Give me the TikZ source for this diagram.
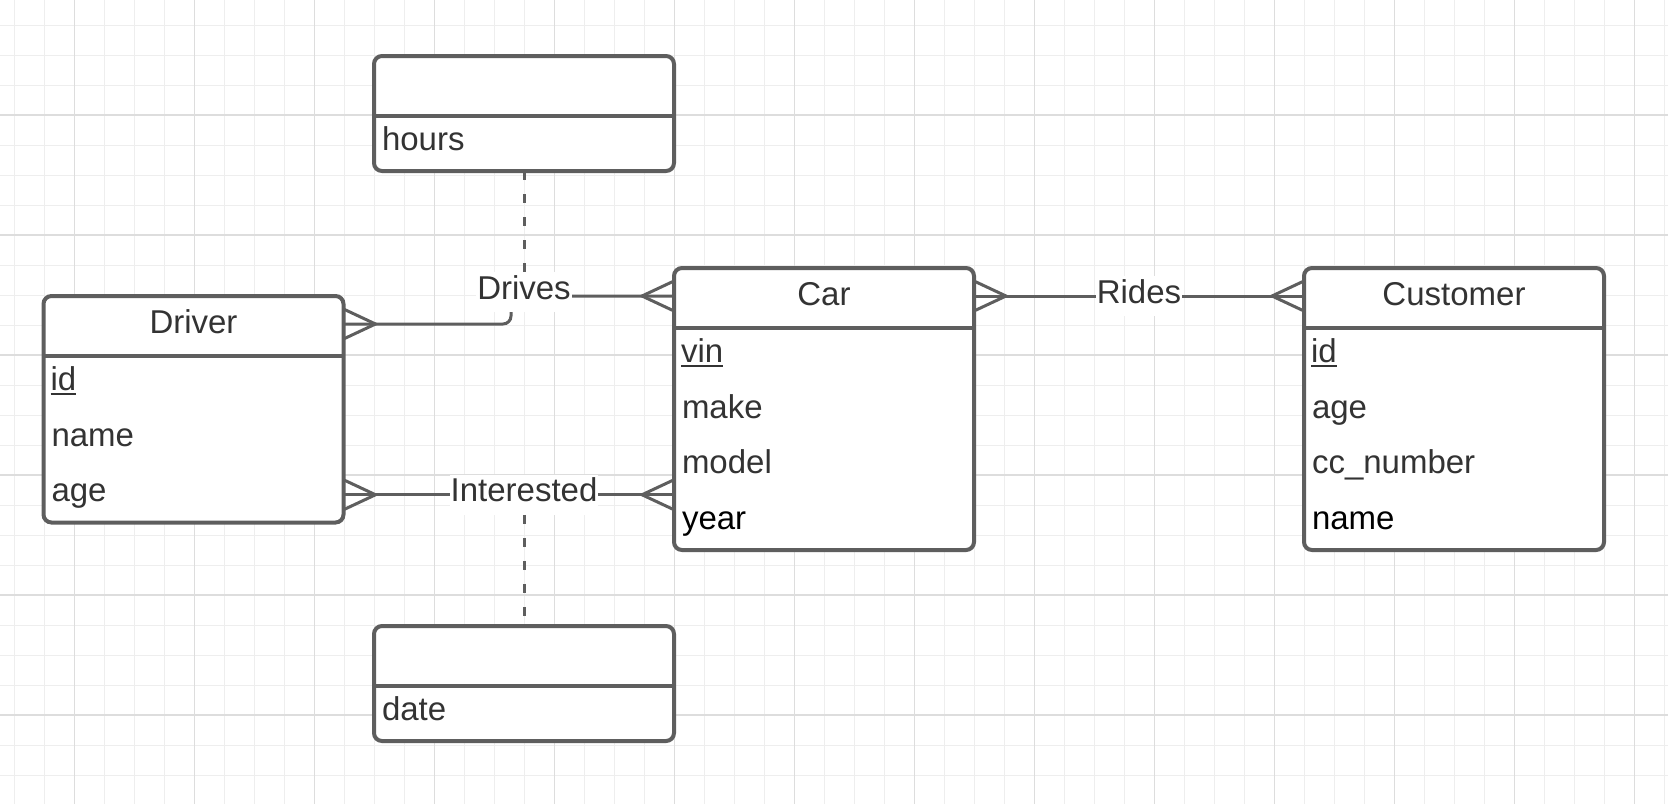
\documentclass[tikz,border=0pt]{standalone}
\usepackage{fontspec}
\setmainfont{Liberation Sans}
\usetikzlibrary{calc}
\definecolor{linec}{HTML}{5E5E5E}
\definecolor{textc}{HTML}{333333}
\definecolor{gridminor}{HTML}{EEEEEE}
\definecolor{gridmajor}{HTML}{DDDDDD}
\newcommand\bigfont{\fontsize{33}{40}\selectfont}
\newcommand\crowfoot[2]{\draw[rel] ($(#1)+(0,15)$) -- ($(#1)+(#2*32,0)$) -- ($(#1)+(0,-15)$);}
\begin{document}
\begin{tikzpicture}[x=1pt,y=-1pt,
  entity/.style={draw=linec, line width=4pt, rounded corners=8pt, fill=white, minimum width=300pt, inner sep=0pt, outer sep=0pt},
  hdr/.style={minimum width=300pt, minimum height=60pt, inner sep=0pt, outer sep=0pt, text=textc, font=\bigfont, text height=24pt, text depth=10pt},
  attr/.style={anchor=west, inner sep=0pt, outer sep=0pt, text=textc, font=\bigfont, text height=24pt, text depth=10pt},
  divider/.style={draw=linec, line width=4pt},
  keyline/.style={draw=textc, line width=2pt},
  rel/.style={draw=linec, line width=3pt},
  assoc/.style={draw=linec, line width=3pt, dash pattern=on 9pt off 14pt},
  rlabel/.style={fill=white, text=textc, font=\bigfont, text height=24pt, text depth=10pt, inner xsep=1pt, inner ysep=3pt, outer sep=0pt},
  minorg/.style={draw=gridminor, line width=1pt},
  majorg/.style={draw=gridmajor, line width=1.2pt}]

\fill[white] (0,0) rectangle (1668,804);
\useasboundingbox (0,0) rectangle (1668,804);

% grid
\foreach \k in {0,...,55} \draw[minorg] ({14.3+30*\k},0) -- ({14.3+30*\k},804);
\foreach \k in {0,...,26} \draw[minorg] (0,{25+30*\k}) -- (1668,{25+30*\k});
\foreach \k in {0,...,13} \draw[majorg] ({74.3+120*\k},0) -- ({74.3+120*\k},804);
\foreach \k in {0,...,5} \draw[majorg] (0,{115+120*\k}) -- (1668,{115+120*\k});

% hours (Drives attributes)
\node[entity, minimum height=115pt] (hours) at (524,113.5) {};
\node[hdr, anchor=north] (hoursH) at (hours.north) {};
\draw[divider] (hoursH.south west) -- (hoursH.south east);
\node[attr] (hoursA) at ([xshift=8pt,yshift=-27.5pt]hoursH.south west) {hours};

% date (Interested attributes)
\node[entity, minimum height=115pt] (date) at (524,683.5) {};
\node[hdr, anchor=north] (dateH) at (date.north) {};
\draw[divider] (dateH.south west) -- (dateH.south east);
\node[attr] (dateA) at ([xshift=8pt,yshift=-27.5pt]dateH.south west) {date};

% Driver
\node[entity, minimum height=226.5pt] (driver) at (193.5,409.25) {};
\node[hdr, anchor=north] (driverH) at (driver.north) {Driver};
\draw[divider] (driverH.south west) -- (driverH.south east);
\node[attr] (drvId) at ([xshift=7pt,yshift=-27.75pt]driverH.south west) {id};
\draw[keyline] ([yshift=-3pt]drvId.base west) -- ([yshift=-3pt]drvId.base east);
\node[attr] (drvName) at ([xshift=1pt,yshift=-55.5pt]drvId.west) {name};
\node[attr] (drvAge) at ([yshift=-55.5pt]drvName.west) {age};

% Car
\node[entity, minimum height=282pt] (car) at (824,409) {};
\node[hdr, anchor=north] (carH) at (car.north) {Car};
\draw[divider] (carH.south west) -- (carH.south east);
\node[attr] (carVin) at ([xshift=7pt,yshift=-27.75pt]carH.south west) {vin};
\draw[keyline] ([yshift=-3pt]carVin.base west) -- ([yshift=-3pt]carVin.base east);
\node[attr] (carMake) at ([xshift=1pt,yshift=-55.5pt]carVin.west) {make};
\node[attr] (carModel) at ([yshift=-55.5pt]carMake.west) {model};
\node[attr, text=black] (carYear) at ([yshift=-55.5pt]carModel.west) {year};

% Customer
\node[entity, minimum height=282pt] (cust) at (1454,409) {};
\node[hdr, anchor=north] (custH) at (cust.north) {Customer};
\draw[divider] (custH.south west) -- (custH.south east);
\node[attr] (custId) at ([xshift=7pt,yshift=-27.75pt]custH.south west) {id};
\draw[keyline] ([yshift=-3pt]custId.base west) -- ([yshift=-3pt]custId.base east);
\node[attr] (custAge) at ([xshift=1pt,yshift=-55.5pt]custId.west) {age};
\node[attr] (custCc) at ([yshift=-55.5pt]custAge.west) {cc\_number};
\node[attr, text=black] (custName) at ([yshift=-55.5pt]custCc.west) {name};

% Drives
\coordinate (d1) at ([yshift=2pt]driverH.east);
\coordinate (c1) at ([yshift=2pt]carH.west);
\coordinate (dbend) at ([xshift=-163pt]c1);
\draw[rel, rounded corners=8pt] (d1) -| (dbend) -- (c1);
\crowfoot{d1}{1}
\crowfoot{c1}{-1}

% Rides
\coordinate (c2) at ([yshift=2pt]carH.east);
\coordinate (u1) at ([yshift=2pt]custH.west);
\draw[rel] (c2) -- (u1);
\crowfoot{c2}{1}
\crowfoot{u1}{-1}

% Interested
\coordinate (d2) at (driver.east |- drvAge.west);
\coordinate (c3) at (car.west |- drvAge.west);
\draw[rel] (d2) -- (c3);
\crowfoot{d2}{1}
\crowfoot{c3}{-1}

% labels
\node[rlabel] (drivesL) at (524,292) {Drives};
\node[rlabel] (ridesL) at ($(c2)!0.5!(u1)$) {Rides};
\node[rlabel] (intL) at (hours.south |- d2) {Interested};

% associative dashed links
\draw[assoc] (hours.south) -- (drivesL.north);
\draw[assoc] (intL.south) -- (date.north);
\end{tikzpicture}
\end{document}
